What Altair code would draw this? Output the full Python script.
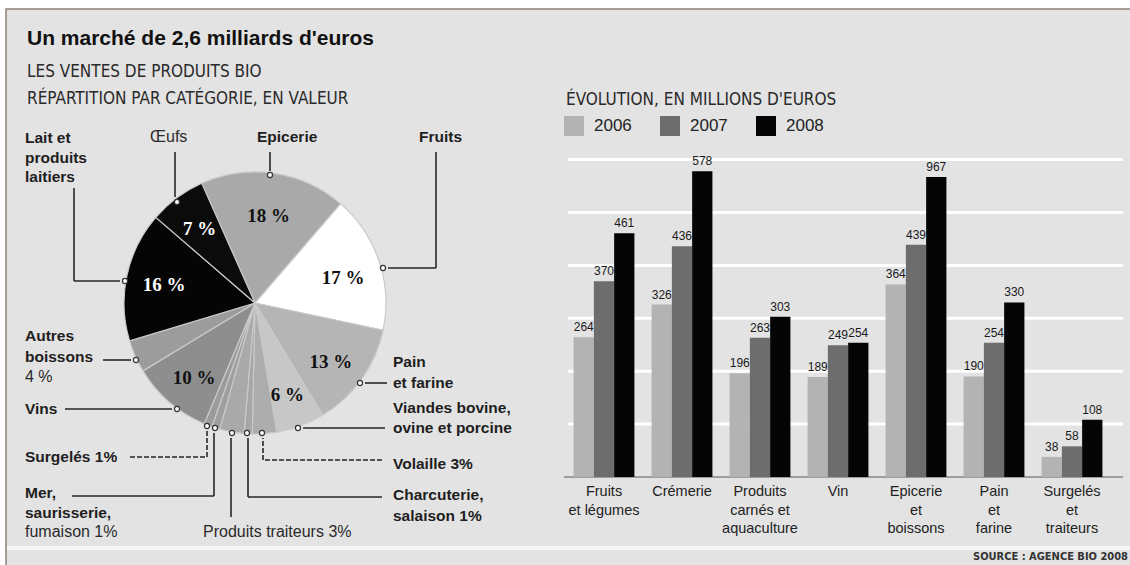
import math
import altair as alt
import pandas as pd

W, H = 1130, 565

# ---------------- data ----------------
pie_categories = ["Epicerie", "Fruits", "Pain et farine", "Viandes bovine, ovine et porcine",
                  "Volaille", "Charcuterie, salaison", "Produits traiteurs",
                  "Mer, saurisserie, fumaison", "Surgelés", "Vins", "Autres boissons",
                  "Lait et produits laitiers", "Œufs"]
pie_shares = [18, 17, 13, 6, 3, 1, 3, 1, 1, 10, 4, 16, 7]
pie_fills = ["#a9a9a9", "#ffffff", "#b5b5b5", "#c7c7c7", "#adadad", "#a6a6a6", "#a9a9a9",
             "#9f9f9f", "#9b9b9b", "#8e8e8e", "#9c9c9c", "#050505", "#0b0b0b"]
pie_labels = ["18 %", "17 %", "13 %", "6 %", "", "", "", "", "", "10 %", "", "16 %", "7 %"]
pie_label_white = [False] * 11 + [True, True]

bar_categories = ["Fruits\net légumes", "Crémerie", "Produits\ncarnés et\naquaculture", "Vin",
                  "Epicerie\net\nboissons", "Pain\net\nfarine", "Surgelés\net\ntraiteurs"]
years = ["2006", "2007", "2008"]
sales_2006 = [264, 326, 196, 189, 364, 190, 38]
sales_2007 = [370, 436, 263, 249, 439, 254, 58]
sales_2008 = [461, 578, 303, 254, 567, 330, 108]
labels_2006 = ["264", "326", "196", "189", "364", "190", "38"]
labels_2007 = ["370", "436", "263", "249", "439", "254", "58"]
labels_2008 = ["461", "578", "303", "254", "967", "330", "108"]
year_colors = ["#b3b3b3", "#6d6d6d", "#050505"]
grid_values = [100, 200, 300, 400, 500, 600]

# ---------------- tables ----------------
pie_df = pd.DataFrame({
    "cat": pie_categories,
    "share": pie_shares,
    "o": list(range(len(pie_categories))),
    "fill": pie_fills,
    "lab_black": [l if not w else "" for l, w in zip(pie_labels, pie_label_white)],
    "lab_white": [l if w else "" for l, w in zip(pie_labels, pie_label_white)],
})

rows = []
for vals, labs, yr in [(sales_2006, labels_2006, "2006"), (sales_2007, labels_2007, "2007"),
                       (sales_2008, labels_2008, "2008")]:
    for c, v, l in zip(bar_categories, vals, labs):
        rows.append({"cat": c, "year": yr, "value": v, "label": l})
bar_df = pd.DataFrame(rows)
cat_df = pd.DataFrame({"cat": bar_categories})
grid_df = pd.DataFrame({"g": grid_values})
zero_df = pd.DataFrame({"g": [0]})
one = pd.DataFrame({"k": [0]})

# ---------------- layout of annotations ----------------
SANS = "Liberation Sans, Arial, sans-serif"
NARROW = "Liberation Sans Narrow, DejaVu Sans Condensed, sans-serif"
SERIF = "Liberation Serif, DejaVu Serif, serif"
INK = "#1e1e1e"

CX, CY, R = 255, 303, 131

solid_segments = [
    (74, 188, 74, 281), (74, 281, 120, 281),
    (175, 152, 175, 197),
    (270, 152, 270, 171),
    (436, 152, 436, 268), (436, 268, 388, 268),
    (103, 360, 131, 360),
    (65, 409, 172, 409),
    (72, 496, 214, 496), (214, 496, 214, 433),
    (231, 517, 231, 438),
    (382, 497, 248, 497), (248, 497, 248, 438),
    (385, 428, 303, 428),
    (387, 383, 365, 383),
]
dashed_segments = [
    (130, 457, 207, 457), (207, 457, 207, 431),
    (382, 460, 263, 460), (263, 460, 263, 438),
]
marker_pts = [(125, 281), (177, 202), (270, 175), (383, 268), (136, 360), (177, 409),
              (207, 426), (215, 428), (232, 433), (247, 433), (262, 433), (298, 428), (360, 383)]

ann_bold = [
    (25, 138, "Lait et"), (25, 158, "produits"), (25, 177, "laitiers"),
    (257, 137, "Epicerie"), (419, 137, "Fruits"),
    (25, 336, "Autres"), (25, 357, "boissons"),
    (25, 409, "Vins"), (25, 457, "Surgelés 1%"),
    (25, 493, "Mer,"), (25, 513, "saurisserie,"),
    (393, 362, "Pain"), (393, 383, "et farine"),
    (393, 408, "Viandes bovine,"), (393, 428, "ovine et porcine"),
    (393, 464, "Volaille 3%"),
    (393, 495, "Charcuterie,"), (393, 516, "salaison 1%"),
]
ann_reg = [
    (150, 137, "Œufs"), (25, 377, "4 %"), (25, 532, "fumaison 1%"),
    (203, 532, "Produits traiteurs 3%"),
]


def seg_df(segs):
    return pd.DataFrame(segs, columns=["x", "y", "x2", "y2"])


def txt_df(items):
    return pd.DataFrame(items, columns=["x", "y", "t"])


def text_layer(items, **style):
    return alt.Chart(txt_df(items)).mark_text(**style).encode(
        x=alt.X("x:Q", scale=None, axis=None),
        y=alt.Y("y:Q", scale=None, axis=None),
        text="t:N",
    )


def rule_layer(segs, **style):
    return alt.Chart(seg_df(segs)).mark_rule(**style).encode(
        x=alt.X("x:Q", scale=None, axis=None), x2="x2:Q",
        y=alt.Y("y:Q", scale=None, axis=None), y2="y2:Q",
    )


# ---------------- background ----------------
frame = alt.Chart(one).mark_rect(fill="#e3e3e3", stroke="#8a8278", strokeWidth=1.5).encode(
    x=alt.value(6), x2=alt.value(1140), y=alt.value(9), y2=alt.value(580))
band = alt.Chart(one).mark_rect(fill="#f6f6f6").encode(
    x=alt.value(7), x2=alt.value(1140), y=alt.value(546), y2=alt.value(550))

# ---------------- pie ----------------
theta = alt.Theta("share:Q", stack=True,
                  scale=alt.Scale(domain=[0, 100], range=[math.radians(-24), math.radians(336)]))
arcs = alt.Chart(pie_df).mark_arc(outerRadius=R, stroke="#c9c9c9", strokeWidth=1.2).encode(
    theta=theta, order=alt.Order("o:Q"),
    fill=alt.Fill("fill:N", scale=None),
    x=alt.value(CX), y=alt.value(CY))
pie_txt_black = alt.Chart(pie_df).mark_text(
    radius=93, dy=5, font=SERIF, fontSize=19, fontWeight="bold", color="#111").encode(
    theta=theta, order=alt.Order("o:Q"), text="lab_black:N", x=alt.value(CX), y=alt.value(CY))
pie_txt_white = alt.Chart(pie_df).mark_text(
    radius=93, dy=1, font=SERIF, fontSize=19, fontWeight="bold", color="#ffffff").encode(
    theta=theta, order=alt.Order("o:Q"), text="lab_white:N", x=alt.value(CX), y=alt.value(CY))

lines_solid = rule_layer(solid_segments, color="#262626", strokeWidth=1.6)
lines_dashed = rule_layer(dashed_segments, color="#262626", strokeWidth=1.6, strokeDash=[5, 2])
markers = alt.Chart(pd.DataFrame(marker_pts, columns=["x", "y"])).mark_point(
    shape="circle", filled=True, fill="white", stroke="#333", strokeWidth=1.2, size=26, opacity=1).encode(
    x=alt.X("x:Q", scale=None, axis=None), y=alt.Y("y:Q", scale=None, axis=None))

labels_bold = text_layer(ann_bold, font=SANS, fontSize=15.5, fontWeight="bold", color=INK,
                         align="left", baseline="middle")
labels_reg = text_layer(ann_reg, font=SANS, fontSize=16, color="#2a2a2a",
                        align="left", baseline="middle")

# ---------------- titles ----------------
title = text_layer([(27, 45, "Un marché de 2,6 milliards d'euros")], font=SANS, fontSize=21,
                   fontWeight="bold", color="#111", align="left", baseline="alphabetic")
subtitles = text_layer([(27, 77, "LES VENTES DE PRODUITS BIO"),
                        (27, 104, "RÉPARTITION PAR CATÉGORIE, EN VALEUR"),
                        (566, 105, "ÉVOLUTION, EN MILLIONS D'EUROS")],
                       font=NARROW, fontSize=17, color="#2a2a2a", align="left", baseline="alphabetic")
source = text_layer([(1128, 557, "SOURCE : AGENCE BIO 2008")], font=NARROW, fontSize=11,
                    fontWeight="bold", color="#333", align="right", baseline="middle")

# ---------------- bars ----------------
xs = alt.Scale(domain=bar_categories, range=[565, 1111], paddingInner=0.22, paddingOuter=0.11)
ys = alt.Scale(domain=[0, 600], range=[477, 159.6])
xo = alt.Scale(domain=years, paddingInner=0, paddingOuter=0)

grid = alt.Chart(grid_df).mark_rule(color="#ffffff", strokeWidth=3).encode(
    y=alt.Y("g:Q", scale=ys, axis=None), x=alt.value(568), x2=alt.value(1123))
baseline = alt.Chart(zero_df).mark_rule(color="#5a5a5a", strokeWidth=1.2).encode(
    y=alt.Y("g:Q", scale=ys, axis=None), x=alt.value(564), x2=alt.value(1123))

bars = alt.Chart(bar_df).mark_bar().encode(
    x=alt.X("cat:N", scale=xs, axis=None),
    xOffset=alt.XOffset("year:N", scale=xo),
    y=alt.Y("value:Q", scale=ys, axis=None),
    color=alt.Color("year:N", scale=alt.Scale(domain=years, range=year_colors),
                    legend=alt.Legend(orient="none", legendX=564, legendY=116, direction="horizontal",
                                      title=None, symbolType="square", symbolSize=400,
                                      symbolStrokeWidth=0, labelFontSize=17, labelFont=SANS,
                                      labelColor="#222", labelOffset=10, columnPadding=28,
                                      padding=0)),
)
bar_labels = alt.Chart(bar_df).mark_text(baseline="bottom", dy=-3, font=SANS, fontSize=12,
                                         color="#1a1a1a").encode(
    x=alt.X("cat:N", scale=xs, axis=None),
    xOffset=alt.XOffset("year:N", scale=xo),
    y=alt.Y("value:Q", scale=ys, axis=None),
    text="label:N",
)
cat_labels = alt.Chart(cat_df).mark_text(baseline="top", lineBreak="\n", lineHeight=18.5,
                                         font=SANS, fontSize=14.5, color="#222").encode(
    x=alt.X("cat:N", scale=xs, axis=None),
    y=alt.value(485),
    text="cat:N",
)

chart = alt.layer(
    frame, band,
    arcs, pie_txt_black, pie_txt_white,
    lines_solid, lines_dashed, markers, labels_bold, labels_reg,
    title, subtitles, source,
    grid, baseline, bars, bar_labels, cat_labels,
).resolve_scale(
    x="independent", y="independent"
).properties(
    width=W, height=H, autosize=alt.AutoSizeParams(type="none"), padding=0, background="white"
).configure_view(strokeWidth=0)

chart.save("out.html", embed_options={"renderer": "svg", "actions": False})
